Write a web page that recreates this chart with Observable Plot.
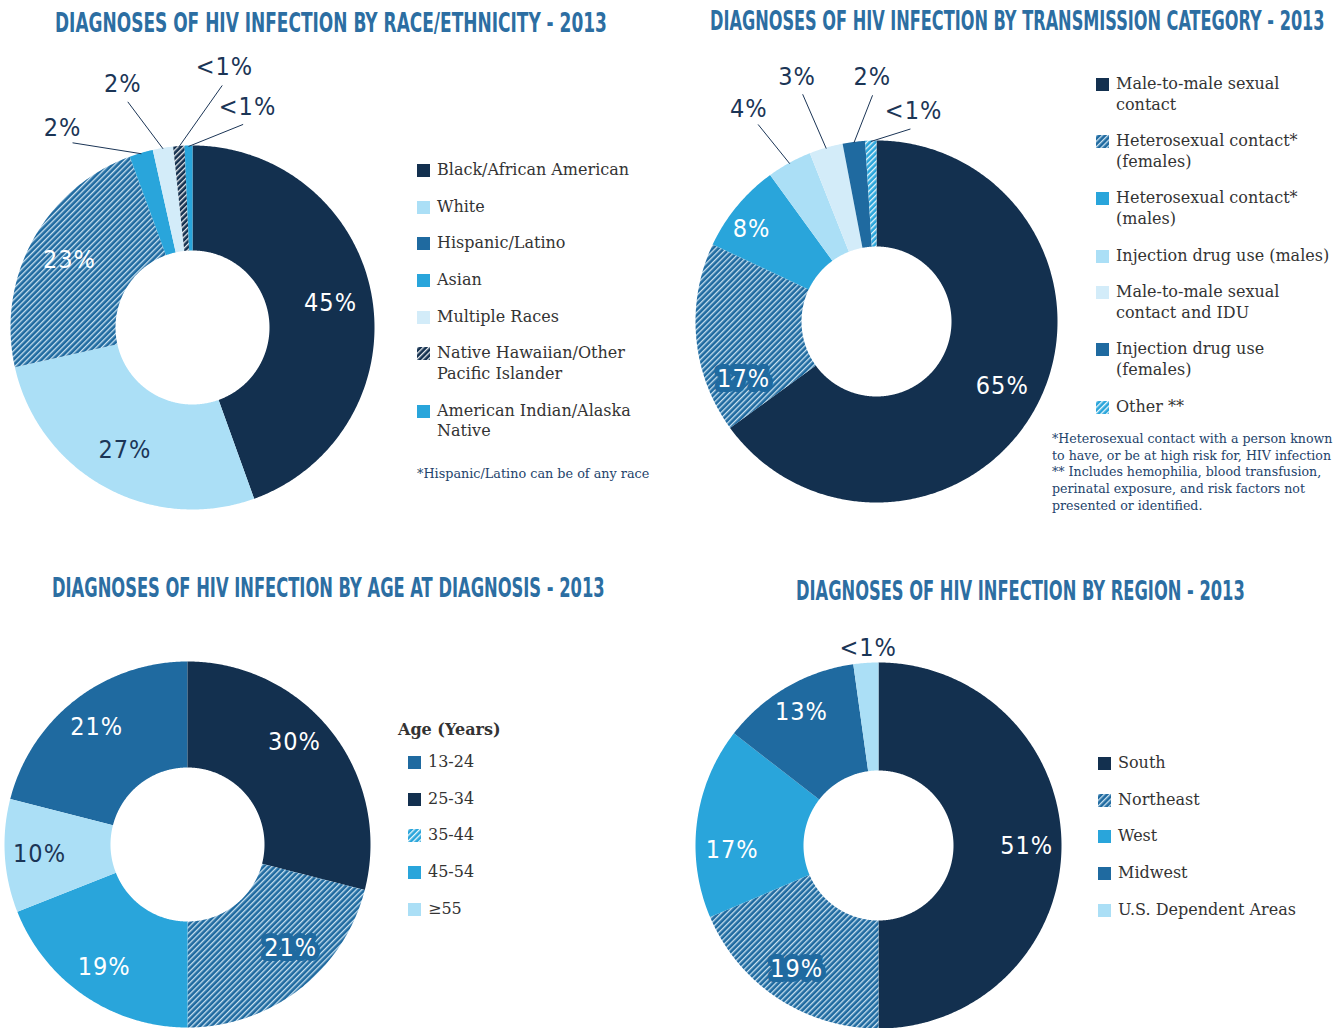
<!DOCTYPE html>
<html><head><meta charset="utf-8">
<script src="https://cdn.jsdelivr.net/npm/d3@7"></script>
<script src="https://cdn.jsdelivr.net/npm/@observablehq/plot@0.6"></script>
<style>
body{margin:0;background:#fff;}
#page{position:relative;width:1342px;height:1028px;overflow:hidden;font-family:"DejaVu Serif",serif;}
.legend{position:absolute;font-family:"DejaVu Serif",serif;font-size:16px;color:#333;line-height:20.5px;}
.item{display:flex;align-items:flex-start;margin-bottom:16.2px;white-space:pre-line;}
.item svg{flex:none;margin-top:4px;margin-right:7px;}
.note{position:absolute;font-family:"DejaVu Serif",serif;color:#23436b;line-height:16.7px;white-space:pre-line;}
.lhead{position:absolute;font-family:"DejaVu Serif",serif;font-size:16px;font-weight:bold;color:#333;}
</style></head>
<body>
<svg width="0" height="0" style="position:absolute">
 <defs>
  <pattern id="hMid" patternUnits="userSpaceOnUse" width="4" height="4" patternTransform="rotate(45)">
   <rect width="4" height="4" fill="#1f6aa0"/>
   <line x1="0.7" y1="0" x2="0.7" y2="4" stroke="#dbeef9" stroke-width="1.2"/>
  </pattern>
  <pattern id="hNavy" patternUnits="userSpaceOnUse" width="4" height="4" patternTransform="rotate(45)">
   <rect width="4" height="4" fill="#13304f"/>
   <line x1="0.7" y1="0" x2="0.7" y2="4" stroke="#ffffff" stroke-width="1.2"/>
  </pattern>
  <pattern id="hBright" patternUnits="userSpaceOnUse" width="4" height="4" patternTransform="rotate(45)">
   <rect width="4" height="4" fill="#29a5db"/>
   <line x1="0.7" y1="0" x2="0.7" y2="4" stroke="#ffffff" stroke-width="1.2"/>
  </pattern>
 </defs>
</svg>
<div id="page"></div>
<script>
// ---------------- DATA ----------------
const raceCategories = ["Black/African American","White","Hispanic/Latino","Asian","Multiple Races","Native Hawaiian/Other\nPacific Islander","American Indian/Alaska\nNative"];
const raceValues = [44.5, 27, 22.9, 2.1, 1.8, 1.0, 0.7];
const raceLabels = ["45%","27%","23%","2%","2%","<1%","<1%"];

const transCategories = ["Male-to-male sexual\ncontact","Heterosexual contact*\n(females)","Heterosexual contact*\n(males)","Injection drug use (males)","Male-to-male sexual\ncontact and IDU","Injection drug use\n(females)","Other **"];
const transValues = [65, 17, 8, 4, 3, 2, 1];
const transLabels = ["65%","17%","8%","4%","3%","2%","<1%"];

const ageCategories = ["13-24","25-34","35-44","45-54","\u226555"];
const ageValues = [21, 29, 21, 19, 10];
const ageLabels = ["21%","30%","21%","19%","10%"];

const regionCategories = ["South","Northeast","West","Midwest","U.S. Dependent Areas"];
const regionValues = [50, 18.6, 16.9, 12.3, 2.2];
const regionLabels = ["51%","19%","17%","13%","<1%"];

const titles = [
  "DIAGNOSES OF HIV INFECTION BY RACE/ETHNICITY - 2013",
  "DIAGNOSES OF HIV INFECTION BY TRANSMISSION CATEGORY - 2013",
  "DIAGNOSES OF HIV INFECTION BY AGE AT DIAGNOSIS - 2013",
  "DIAGNOSES OF HIV INFECTION BY REGION - 2013"
];
const raceNote = "*Hispanic/Latino can be of any race";
const transNote = "*Heterosexual contact with a person known\nto have, or be at high risk for, HIV infection\n** Includes hemophilia, blood transfusion,\nperinatal exposure, and risk factors not\npresented or identified.";
const ageLegendTitle = "Age (Years)";

// ---------------- STYLE / LAYOUT ----------------
const NAVY="#13304f", LIGHT="#abdff6", MID="#1f6aa0", BRIGHT="#29a5db", VLIGHT="#d3ecf9";
const TXT="#1b3556";
const page = document.getElementById("page");

// Titles (scaled horizontally to the reference widths)
const tsvg = d3.select(page).append("svg").attr("width",1342).attr("height",1028)
  .style("position","absolute").style("left",0).style("top",0);
const titleLayout = [[55,32,552],[710,30,615],[52,597,553],[796,600,449]];
titles.forEach((t,i)=>{
  const [x,y,w]=titleLayout[i];
  const txt = tsvg.append("text").attr("x",0).attr("y",0)
   .attr("fill","#2c6ea2").attr("font-family","'Liberation Sans Narrow','DejaVu Sans Condensed','Roboto Condensed',Roboto,sans-serif")
   .attr("font-weight","bold").attr("font-size",26).text(t);
  const nat = txt.node().getComputedTextLength() || w;
  txt.attr("transform",`translate(${x},${y}) scale(${w/nat},1)`);
});

function donut(cfg){
  const total = d3.sum(cfg.values);
  const a0 = cfg.firstEndsAtTop ? -2*Math.PI*cfg.values[0]/total : 0;
  const arcs = d3.pie().sort(null).startAngle(a0).endAngle(a0+2*Math.PI)(cfg.values);
  const rIn = cfg.rInner/cfg.R;
  const ring = [];
  arcs.forEach((a,i)=>{
    const n = Math.max(2, Math.ceil((a.endAngle-a.startAngle)/(Math.PI/360)));
    for(let k=0;k<=n;k++){const t=a.startAngle+(a.endAngle-a.startAngle)*k/n; ring.push({cat:cfg.categories[i],x:Math.sin(t),y:Math.cos(t)});}
    for(let k=n;k>=0;k--){const t=a.startAngle+(a.endAngle-a.startAngle)*k/n; ring.push({cat:cfg.categories[i],x:rIn*Math.sin(t),y:rIn*Math.cos(t)});}
  });
  const mids = arcs.map(a=>(a.startAngle+a.endAngle)/2);
  const idx = cfg.values.map((v,i)=>i);
  const small = idx.filter(i=>cfg.values[i]<cfg.outsideBelow);
  const inside = idx.filter(i=>!small.includes(i)).map(i=>{
    const nd = (cfg.nudge||{})[i] || [0, cfg.labelR];
    const ang = mids[i] + nd[0]*Math.PI/180, r = nd[1];
    return {x:r*Math.sin(ang), y:r*Math.cos(ang), text:cfg.labels[i],
      dark:cfg.darkText.includes(i), boxed:cfg.boxed.includes(i)};
  });
  const outside=[], leaders=[];
  small.forEach((i,j)=>{
    const ang = cfg.outerAngles[j]*Math.PI/180;
    const r = cfg.outerR[j];
    outside.push({x:r*Math.sin(ang), y:r*Math.cos(ang), text:cfg.labels[i]});
    if(cfg.leaders) leaders.push({x1:0.995*Math.sin(mids[i]), y1:0.995*Math.cos(mids[i]), x2:(r-0.1)*Math.sin(ang), y2:(r-0.1)*Math.cos(ang)});
  });
  const pctFont = "'Liberation Sans Narrow','DejaVu Sans Condensed',Roboto,sans-serif";
  const plot = Plot.plot({
    width:cfg.W, height:cfg.H, margin:0,
    x:{domain:[-cfg.cx/cfg.R,(cfg.W-cfg.cx)/cfg.R], axis:null},
    y:{domain:[-(cfg.H-cfg.cy)/cfg.R, cfg.cy/cfg.R], axis:null},
    color:{domain:cfg.categories, range:cfg.fills},
    style:{background:"transparent", overflow:"visible", letterSpacing:"1px"},
    marks:[
      Plot.line(ring,{x:"x",y:"y",z:"cat",fill:"cat",stroke:"none",curve:"linear-closed"}),
      Plot.link(leaders,{x1:"x1",y1:"y1",x2:"x2",y2:"y2",stroke:TXT,strokeWidth:1}),
      Plot.text(inside.filter(d=>d.boxed),{x:"x",y:"y",text:"text",fill:"white",stroke:MID,strokeWidth:10,strokeLinejoin:"round",paintOrder:"stroke",fontSize:25,fontFamily:pctFont}),
      Plot.text(inside.filter(d=>!d.boxed&&!d.dark),{x:"x",y:"y",text:"text",fill:"white",fontSize:25,fontFamily:pctFont}),
      Plot.text(inside.filter(d=>d.dark),{x:"x",y:"y",text:"text",fill:TXT,fontSize:25,fontFamily:pctFont}),
      Plot.text(outside,{x:"x",y:"y",text:"text",fill:TXT,fontSize:25,fontFamily:pctFont})
    ]
  });
  plot.style.position="absolute"; plot.style.left=cfg.left+"px"; plot.style.top=cfg.top+"px";
  page.appendChild(plot);
}

function legend(cats, fills, left, top){
  const div = d3.select(page).append("div").attr("class","legend").style("left",left+"px").style("top",top+"px");
  cats.forEach((c,i)=>{
    const it = div.append("div").attr("class","item");
    it.append("svg").attr("width",13).attr("height",13).append("rect").attr("width",13).attr("height",13).attr("fill",fills[i]);
    it.append("span").text(c);
  });
}
function note(text,left,top,size){
  d3.select(page).append("div").attr("class","note").style("left",left+"px").style("top",top+"px").style("font-size",size+"px").text(text);
}

// Chart 1: race
donut({categories:raceCategories, values:raceValues, labels:raceLabels,
  fills:[NAVY,LIGHT,"url(#hMid)",BRIGHT,VLIGHT,"url(#hNavy)",BRIGHT],
  left:0, top:40, W:400, H:490, cx:192, cy:287, R:182, rInner:77,
  labelR:0.77, outsideBelow:5, darkText:[1], boxed:[], leaders:true,
  outerAngles:[327,344,7,14], outerR:[1.31,1.39,1.44,1.25]});
legend(raceCategories,[NAVY,LIGHT,MID,BRIGHT,VLIGHT,"url(#hNavy)",BRIGHT],417,160);
note(raceNote,417,466,12.8);

// Chart 2: transmission
donut({categories:transCategories, values:transValues, labels:transLabels,
  fills:[NAVY,"url(#hMid)",BRIGHT,LIGHT,VLIGHT,MID,"url(#hBright)"],
  left:690, top:40, W:380, H:480, cx:186, cy:281, R:181, rInner:75,
  labelR:0.78, outsideBelow:5, darkText:[], boxed:[1], leaders:true,
  nudge:{1:[-18,0.8], 2:[-3,0.86]},
  outerAngles:[329,342,359,10], outerR:[1.37,1.42,1.35,1.18]});
legend(transCategories,[NAVY,"url(#hMid)",BRIGHT,LIGHT,VLIGHT,MID,"url(#hBright)"],1096,74);
note(transNote,1052,431,12.6);

// Chart 3: age
donut({categories:ageCategories, values:ageValues, labels:ageLabels, firstEndsAtTop:true,
  fills:[MID,NAVY,"url(#hMid)",BRIGHT,LIGHT],
  left:0, top:650, W:380, H:378, cx:187, cy:194, R:183, rInner:77,
  labelR:0.81, outsideBelow:5, darkText:[4], boxed:[2], leaders:false,
  nudge:{1:[-6,0.81], 2:[-7,0.8]},
  outerAngles:[], outerR:[]});
d3.select(page).append("div").attr("class","lhead").style("left","398px").style("top","720px").text(ageLegendTitle);
legend(ageCategories,[MID,NAVY,"url(#hBright)",BRIGHT,LIGHT],408,752);

// Chart 4: region
donut({categories:regionCategories, values:regionValues, labels:regionLabels,
  fills:[NAVY,"url(#hMid)",BRIGHT,MID,LIGHT],
  left:690, top:620, W:385, H:408, cx:188, cy:225, R:183, rInner:75,
  labelR:0.81, outsideBelow:5, darkText:[], boxed:[1], leaders:false,
  nudge:{2:[-9,0.8], 3:[0,0.84]},
  outerAngles:[357], outerR:[1.08]});
legend(regionCategories,[NAVY,"url(#hMid)",BRIGHT,MID,LIGHT],1098,753);
</script>
</body></html>
